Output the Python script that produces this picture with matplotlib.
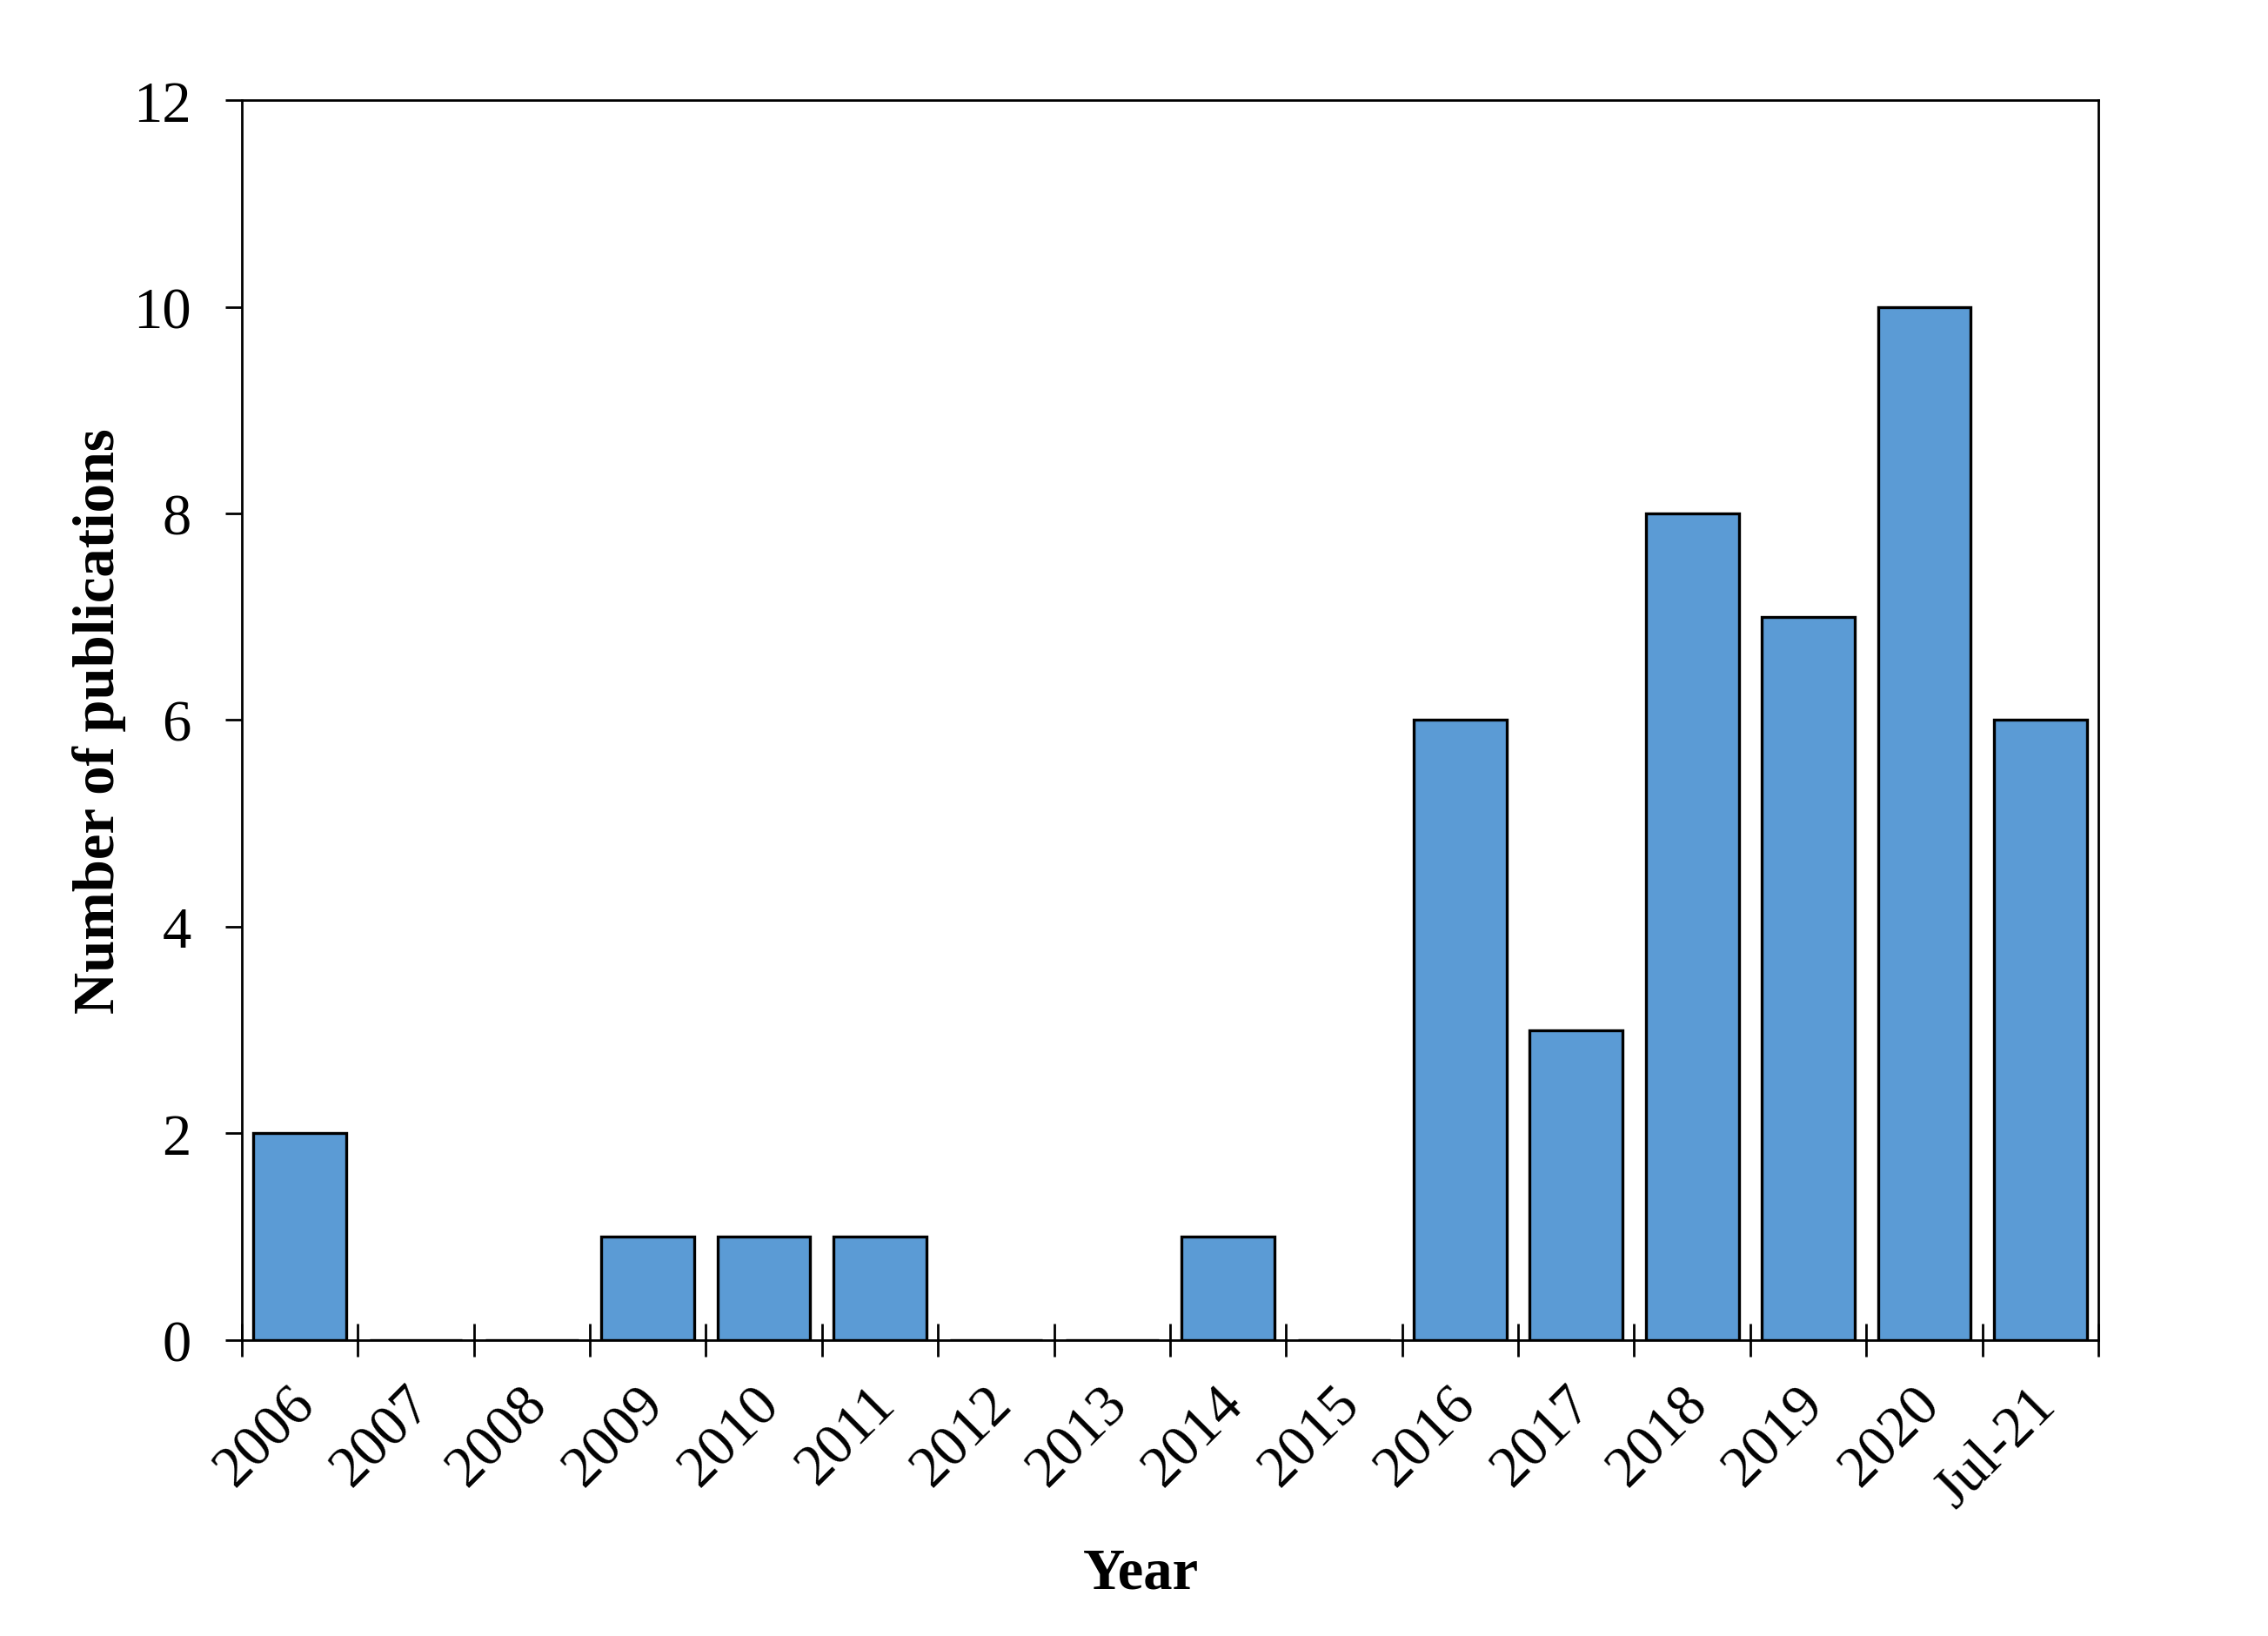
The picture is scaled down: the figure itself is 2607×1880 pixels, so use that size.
import matplotlib
matplotlib.use("Agg")
import matplotlib.pyplot as plt
from matplotlib.ticker import FixedLocator, NullFormatter
import matplotlib.transforms as mtransforms

categories = ["2006", "2007", "2008", "2009", "2010", "2011", "2012", "2013",
              "2014", "2015", "2016", "2017", "2018", "2019", "2020", "Jul-21"]
publications = [2, 0, 0, 1, 1, 1, 0, 0, 1, 0, 6, 3, 8, 7, 10, 6]
y_ticks = [0, 2, 4, 6, 8, 10, 12]

plt.rcParams['font.family'] = ['Liberation Serif', 'DejaVu Serif']

fig = plt.figure(figsize=(13.035, 9.405), dpi=200)
ax = fig.add_axes([0.1066, 0.1808, 0.8186, 0.7575])

x = list(range(len(categories)))
ax.bar(x, publications, width=0.8, color="#5B9BD5", edgecolor="black", linewidth=1.2, zorder=2)

ax.set_xlim(-0.5, len(categories) - 0.5)
ax.set_ylim(0, 12)
ax.set_yticks(y_ticks)
ax.set_yticklabels([str(v) for v in y_ticks], fontsize=24)

# category labels at centers (no tick marks), tick marks at boundaries
ax.xaxis.set_major_locator(FixedLocator([i - 0.5 for i in range(len(categories) + 1)]))
ax.xaxis.set_major_formatter(NullFormatter())
ax.xaxis.set_minor_locator(FixedLocator(x))
ax.set_xticklabels(categories, minor=True, fontsize=24, rotation=45,
                   ha="right", va="center", rotation_mode="anchor")
ax.tick_params(axis="x", which="major", direction="inout", length=14, width=1.0)
ax.tick_params(axis="x", which="minor", length=0, pad=23)
ax.tick_params(axis="y", which="major", direction="out", length=7, width=1.0, pad=14)

offset = mtransforms.ScaledTranslation(8 / 200, 0, fig.dpi_scale_trans)
for lbl in ax.xaxis.get_minorticklabels():
    lbl.set_transform(lbl.get_transform() + offset)

for s in ax.spines.values():
    s.set_linewidth(1.0)

ax.set_xlabel("Year", fontsize=24, fontweight="bold")
ax.xaxis.set_label_coords(0.4845, -0.188)
ax.xaxis.label.set_va("center")
ax.set_ylabel("Number of publications", fontsize=24, fontweight="bold")
ax.yaxis.set_label_coords(-0.077, 0.5)
ax.yaxis.label.set_va("center")

fig.savefig("out.png", dpi=200, facecolor="white")
